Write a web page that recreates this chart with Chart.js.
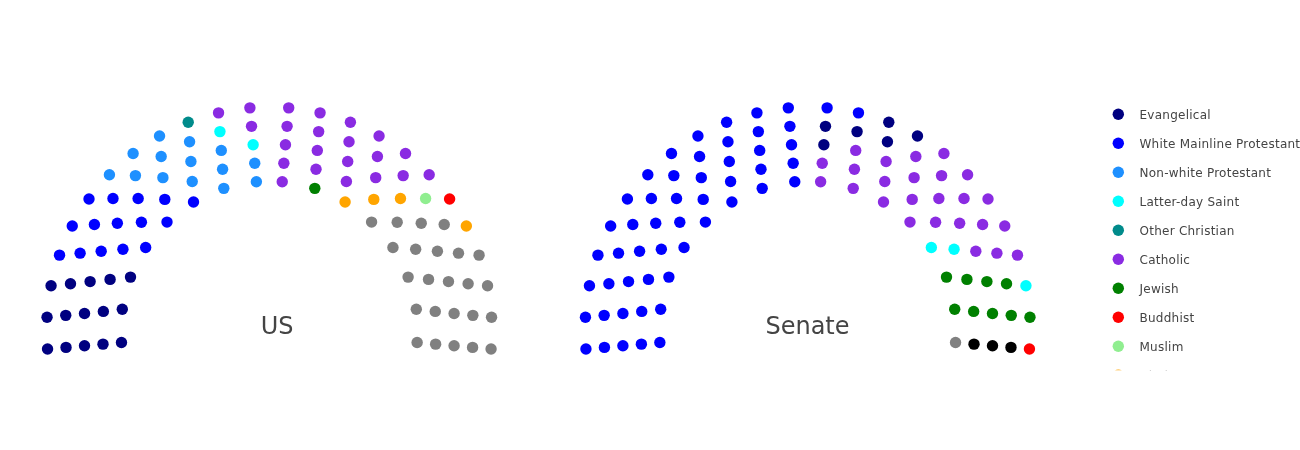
<!DOCTYPE html>
<html>
<head>
<meta charset="utf-8">
<script src="https://cdn.jsdelivr.net/npm/chart.js@4.4.1/dist/chart.umd.min.js"></script>
<style>
  html, body { margin: 0; padding: 0; background: #ffffff; }
  #wrap { width: 1300px; height: 450px; position: relative; }
</style>
</head>
<body>
<div id="wrap"><canvas id="c" width="1300" height="450"></canvas></div>
<script>
// ---------------- data ----------------
const categories = ['Evangelical', 'White Mainline Protestant', 'Non-white Protestant', 'Latter-day Saint',
  'Other Christian', 'Catholic', 'Jewish', 'Buddhist', 'Muslim', 'Hindu', 'Unaffiliated', "Don't know/Refused"];
const chamberNames = ['US', 'Senate'];
// seats per ring, inner ring first
const ringSeats = [16, 18, 20, 22, 24];
// seats of each category in each ring (category order as in `categories`), inner ring first
const usRing1 = [3, 3, 2, 0, 0, 1, 1, 0, 0, 1, 5, 0];
const usRing2 = [3, 3, 3, 0, 0, 3, 0, 0, 0, 1, 5, 0];
const usRing3 = [3, 3, 3, 1, 0, 4, 0, 0, 0, 1, 5, 0];
const usRing4 = [3, 3, 3, 1, 0, 6, 0, 0, 1, 0, 5, 0];
const usRing5 = [3, 3, 3, 0, 1, 8, 0, 1, 0, 1, 4, 0];
const usOrder = [0, 1, 2, 3, 4, 5, 6, 7, 8, 9, 10, 11];
const senateRing1 = [0, 8, 0, 1, 0, 4, 2, 0, 0, 0, 1, 0];
const senateRing2 = [0, 9, 0, 1, 0, 5, 2, 0, 0, 0, 0, 1];
const senateRing3 = [1, 10, 0, 0, 0, 6, 2, 0, 0, 0, 0, 1];
const senateRing4 = [3, 11, 0, 0, 0, 5, 2, 0, 0, 0, 0, 1];
const senateRing5 = [2, 14, 0, 1, 0, 5, 1, 1, 0, 0, 0, 0];
const senateOrder = [1, 0, 5, 3, 6, 7, 11, 10, 2, 4, 8, 9];

// ---------------- styles / layout ----------------
const colors = ['#000080', '#0000ff', '#1e90ff', '#00ffff', '#008b8b', '#8a2be2',
  '#008000', '#ff0000', '#90ee90', '#ffa500', '#808080', '#000000'];
const UNIT = 18.55;            // px per data unit
const ringRadius = [8, 9, 10, 11, 12];
const centerPx = { x: 269.3, y: 329.6 };
const senateShift = 538.4 / UNIT;
const FONT = '"DejaVu Sans", Verdana, sans-serif';

function seatAngle(j, n) {
  const h = n / 2;
  const step = 90 / (h - 1);
  const deg = j < h ? 185 - j * step : 85 - (j - h) * step;
  return deg * Math.PI / 180;
}

function buildChamber(rings, order, cx) {
  const pts = categories.map(() => []);
  rings.forEach((counts, ri) => {
    const n = ringSeats[ri];
    const r = ringRadius[ri];
    let j = 0;
    order.forEach(ci => {
      for (let k = 0; k < counts[ci]; k++) {
        const a = seatAngle(j, n);
        pts[ci].push({ x: cx + r * Math.cos(a), y: r * Math.sin(a) });
        j++;
      }
    });
  });
  return pts;
}

const chambers = [
  buildChamber([usRing1, usRing2, usRing3, usRing4, usRing5], usOrder, 0),
  buildChamber([senateRing1, senateRing2, senateRing3, senateRing4, senateRing5], senateOrder, senateShift)
];

const datasets = [];
chambers.forEach((pts, chi) => {
  categories.forEach((name, ci) => {
    if (!pts[ci].length) return;
    datasets.push({
      label: name,
      chamber: chamberNames[chi],
      data: pts[ci],
      backgroundColor: colors[ci],
      borderWidth: 0,
      pointRadius: 5.7,
      pointHoverRadius: 5.7
    });
  });
});

const titlePlugin = {
  id: 'chamberTitles',
  afterDatasetsDraw(chart) {
    const { ctx, scales } = chart;
    ctx.save();
    ctx.font = '24px ' + FONT;
    ctx.fillStyle = '#444444';
    ctx.textAlign = 'center';
    ctx.textBaseline = 'alphabetic';
    const base = scales.y.getPixelForValue(0) + 4.6;
    ctx.fillText(chamberNames[0], scales.x.getPixelForValue(0) + 7.9, base);
    ctx.fillText(chamberNames[1], scales.x.getPixelForValue(senateShift) - 0.2, base - 0.5);
    ctx.restore();
  }
};

const legendPlugin = {
  id: 'clippedLegend',
  afterDraw(chart) {
    const { ctx } = chart;
    ctx.save();
    ctx.beginPath();
    ctx.rect(1100, 95, 200, 275.2);
    ctx.clip();
    ctx.font = '12px ' + FONT;
    if ('letterSpacing' in ctx) ctx.letterSpacing = '0.25px';
    ctx.textAlign = 'left';
    ctx.textBaseline = 'alphabetic';
    categories.forEach((name, i) => {
      const y = 114.3 + i * 29;
      ctx.beginPath();
      ctx.arc(1118.3, y, 5.7, 0, Math.PI * 2);
      ctx.fillStyle = colors[i];
      ctx.fill();
      ctx.fillStyle = '#444444';
      ctx.fillText(name, 1139.5, y + 4.6);
    });
    ctx.restore();
  }
};

new Chart(document.getElementById('c'), {
  type: 'scatter',
  data: { datasets },
  options: {
    responsive: false,
    animation: false,
    layout: { padding: 0, autoPadding: false },
    plugins: { legend: { display: false }, tooltip: { enabled: false } },
    scales: {
      x: { type: 'linear', display: false, min: -centerPx.x / UNIT, max: (1300 - centerPx.x) / UNIT },
      y: { type: 'linear', display: false, min: -(450 - centerPx.y) / UNIT, max: centerPx.y / UNIT }
    }
  },
  plugins: [titlePlugin, legendPlugin]
});
</script>
</body>
</html>
